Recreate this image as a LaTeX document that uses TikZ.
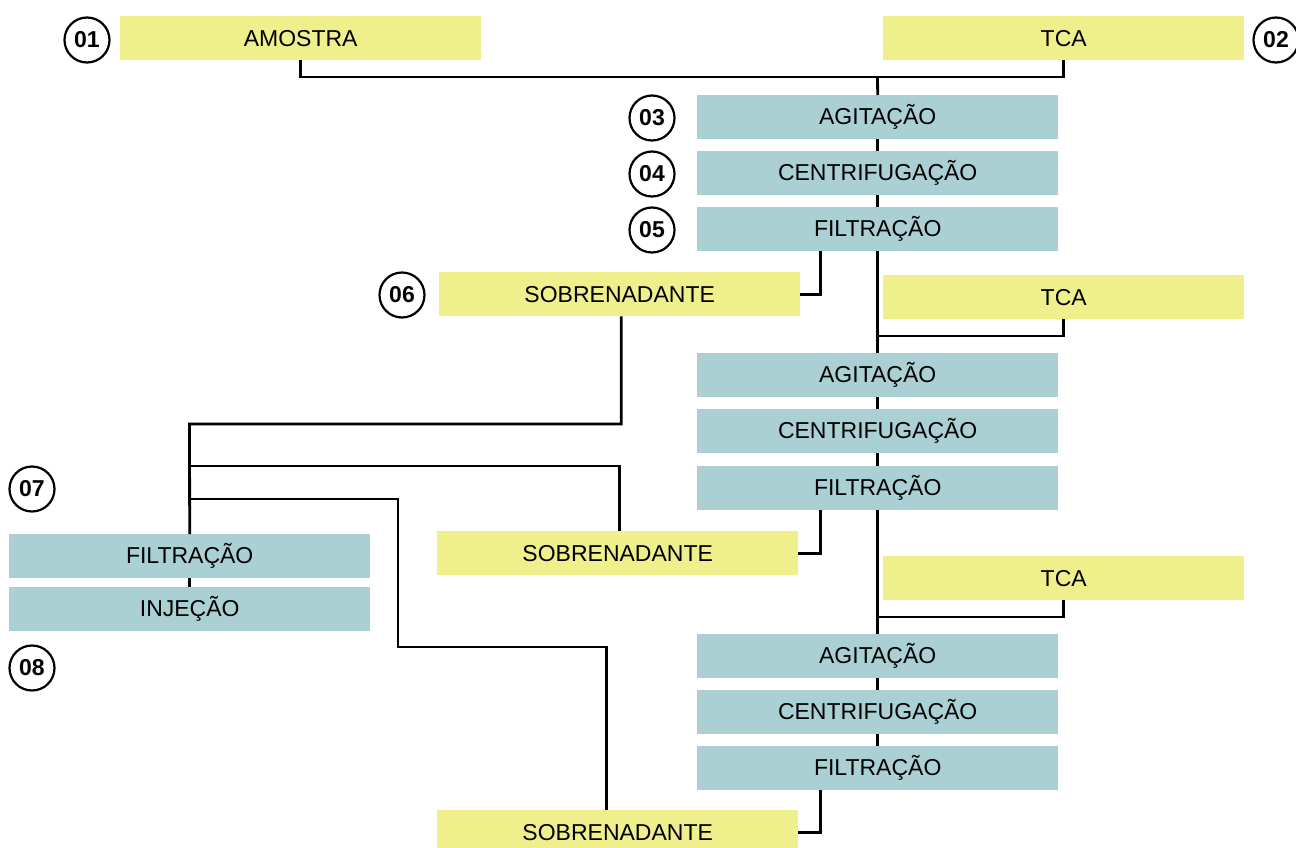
\documentclass[tikz,border=0pt]{standalone}
\usepackage{fontspec}
\setmainfont{Liberation Sans}
\definecolor{reagent}{RGB}{239,239,140}
\definecolor{stepcol}{RGB}{171,208,211}
\begin{document}
\begin{tikzpicture}[x=1pt,y=-1pt,
  box/.style={rectangle,inner sep=0pt,minimum width=361pt,minimum height=44pt,
    anchor=north west,font=\fontsize{23}{23}\selectfont},
  ybox/.style={box,fill=reagent},
  tbox/.style={box,fill=stepcol},
  num/.style={circle,draw=black,line width=2.2pt,minimum size=45pt,inner sep=0pt,
    font=\fontsize{23}{23}\selectfont\bfseries},
  link/.style={draw=black,line width=2.8pt}]
\useasboundingbox (0,0) rectangle (1296,848);

% reagents and samples
\node[ybox] (amostra) at (120,16) {AMOSTRA};
\node[ybox] (tca1) at (883,16) {TCA};
\node[ybox] (sob1) at (439,272) {SOBRENADANTE};
\node[ybox] (tca2) at (883,275) {TCA};
\node[ybox] (sob2) at (437,531) {SOBRENADANTE};
\node[ybox] (tca3) at (883,556) {TCA};
\node[ybox] (sob3) at (437,810) {SOBRENADANTE};

% processing steps
\node[tbox] (agit1) at (697,95) {AGITAÇÃO};
\node[tbox] (cent1) at (697,151) {CENTRIFUGAÇÃO};
\node[tbox] (filt1) at (697,207) {FILTRAÇÃO};
\node[tbox] (agit2) at (697,353) {AGITAÇÃO};
\node[tbox] (cent2) at (697,409) {CENTRIFUGAÇÃO};
\node[tbox] (filt2) at (697,466) {FILTRAÇÃO};
\node[tbox] (agit3) at (697,634) {AGITAÇÃO};
\node[tbox] (cent3) at (697,690) {CENTRIFUGAÇÃO};
\node[tbox] (filt3) at (697,746) {FILTRAÇÃO};
\node[tbox] (filtL) at (9,534) {FILTRAÇÃO};
\node[tbox] (inj) at (9,587) {INJEÇÃO};

% step numbers
\node[num] (n01) at (87,40) {01};
\node[num] (n02) at (1276,40) {02};
\node[num] (n03) at (652,118) {03};
\node[num] (n04) at (652,174) {04};
\node[num] (n05) at (652,230) {05};
\node[num] (n06) at (402,295) {06};
\node[num] (n07) at (32,489) {07};
\node[num] (n08) at (32,668) {08};

% junction points
\coordinate (j1) at (877.5,77);
\coordinate (j2) at (877.5,336);
\coordinate (j3) at (877.5,617);
\coordinate (l1) at (189.5,424);
\coordinate (l2) at (189.5,466);
\coordinate (l3) at (189.5,499);
\coordinate (l4) at (398,647);

% main extraction line
\draw[link] (amostra.south) |- (j1) -| (tca1.south);
\draw[link] (j1) -- (agit1.north);
\draw[link] (agit1) -- (cent1);
\draw[link] (cent1) -- (filt1);
\draw[link] (filt1) -- (agit2);
\draw[link] (tca2.south) |- (j2);
\draw[link] (agit2) -- (cent2);
\draw[link] (cent2) -- (filt2);
\draw[link] (filt2) -- (agit3);
\draw[link] (tca3.south) |- (j3);
\draw[link] (agit3) -- (cent3);
\draw[link] (cent3) -- (filt3);

% supernatant outputs
\draw[link] ([xshift=-57.5pt]filt1.south) |- (sob1.east);
\draw[link] ([xshift=-57.5pt]filt2.south) |- (sob2.east);
\draw[link] ([xshift=-57.5pt]filt3.south) |- (sob3.east);

% pooling of supernatants
\draw[link] ([xshift=1.5pt]sob1.south) |- (l1) -- (filtL.north);
\draw[link] (l2) -| ([xshift=1.5pt]sob2.north);
\draw[link] (l3) -| (l4) -| ([xshift=-11.5pt]sob3.north);
\draw[link] (filtL) -- (inj);
\end{tikzpicture}
\end{document}
